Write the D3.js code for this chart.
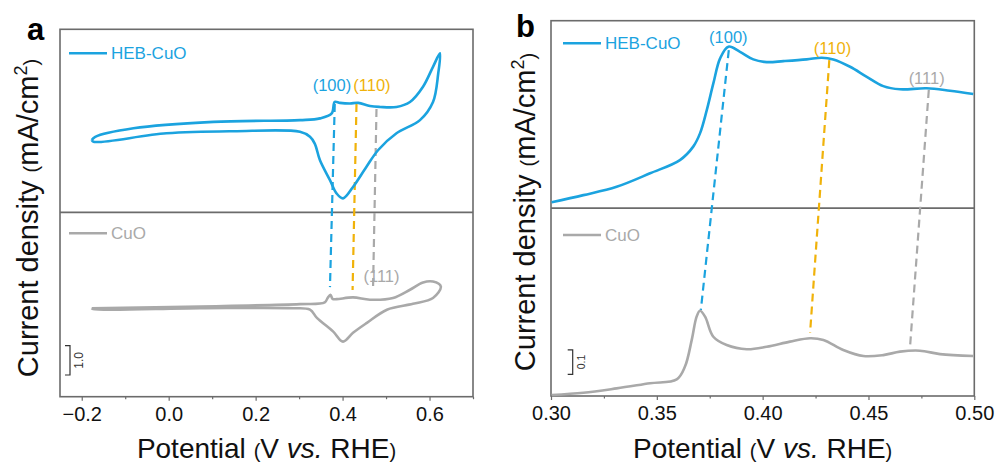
<!DOCTYPE html>
<html><head><meta charset="utf-8">
<script src="https://cdn.jsdelivr.net/npm/d3@7"></script>
<style>
html,body{margin:0;padding:0;background:#fff;}
svg{display:block;font-family:"Liberation Sans",Arial,sans-serif;}
</style></head>
<body><svg id="chart" width="996" height="465"></svg>
<script>
// ---------------- DATA ----------------
// Panel a: cyclic voltammograms (potential V vs RHE, current mA/cm2), traversal order
const hebCvPotential = [-0.177,-0.169,-0.081,0.103,0.302,0.348,0.375,0.382,0.394,0.417,0.436,0.463,0.486,0.524,0.555,0.585,0.608,0.624,
  0.620,0.608,0.578,0.524,0.482,0.455,0.424,0.401,0.386,0.371,0.348,0.336,0.325,0.302,0.149,-0.005,-0.173,-0.177];
const hebCvCurrent = [-0.27,-0.16,0.13,0.35,0.41,0.47,0.64,1.03,1.00,0.98,1.00,0.89,0.86,0.86,1.03,1.55,2.23,2.69,
  2.00,1.03,0.41,-0.04,-0.61,-1.18,-1.87,-2.26,-2.09,-1.64,-0.96,-0.39,-0.16,0.01,0.03,-0.04,-0.33,-0.27];
const cuoCvPotential = [-0.177,0.072,0.302,0.359,0.366,0.372,0.377,0.386,0.424,0.463,0.516,0.555,0.585,0.608,0.626,
  0.608,0.562,0.502,0.456,0.424,0.401,0.378,0.341,0.325,0.286,0.072,-0.174,-0.177];
const cuoCvCurrent = [0.02,0.08,0.16,0.22,0.38,0.48,0.34,0.33,0.39,0.31,0.37,0.65,0.90,0.93,0.76,
  0.37,0.17,-0.03,-0.48,-0.82,-1.12,-0.77,-0.31,-0.03,0.02,0.02,-0.01,0.02];
const hebOffsetA = 6.03;   // vertical offset of HEB-CuO curve (mA/cm2)

// Panel b: anodic sweep detail
const hebLsvPotential = [0.3003,0.3153,0.3310,0.3468,0.3609,0.3672,0.3704,0.3736,0.3767,0.3799,0.3838,0.3893,0.3956,0.4019,0.4098,0.4208,0.4279,0.4334,0.4413,0.4492,0.4570,0.4649,0.4775,0.4885,0.4995];
const hebLsvCurrent = [0.041,0.070,0.104,0.159,0.213,0.268,0.322,0.417,0.526,0.628,0.676,0.655,0.624,0.613,0.617,0.624,0.631,0.624,0.594,0.553,0.515,0.502,0.506,0.496,0.483];
const cuoLsvPotential = [0.3003,0.3153,0.3310,0.3468,0.3594,0.3633,0.3665,0.3688,0.3704,0.3728,0.3767,0.3830,0.3925,0.4019,0.4129,0.4224,0.4287,0.4381,0.4476,0.4570,0.4649,0.4743,0.4838,0.4995];
const cuoLsvCurrent = [0.004,0.013,0.031,0.052,0.068,0.120,0.229,0.324,0.348,0.324,0.242,0.208,0.191,0.201,0.222,0.236,0.229,0.188,0.163,0.167,0.181,0.185,0.171,0.163];
const hebOffsetB = 0.75;

// Facet labels and guide lines [x1, y1, x2, y2] in data units
const facetNames = ["(100)","(110)","(111)"];
const guidesA = [[0.382,6.99,0.371,0.74],[0.432,6.99,0.423,0.64],[0.478,6.82,0.470,0.64]];
const guidesB = [[0.3840,1.412,0.3708,0.351],[0.4315,1.371,0.4224,0.257],[0.4785,1.249,0.4696,0.196]];
const labelsA = [[0.3755,7.43],[0.4675,7.43],[0.4895,0.93]];
const labelsB = [[0.3838,1.443],[0.4330,1.398],[0.4775,1.273]];

const ticksA = [-0.2,0.0,0.2,0.4,0.6];
const ticksB = [0.30,0.35,0.40,0.45,0.50];
const seriesNames = ["HEB-CuO","CuO"];
const scaleBarA = 1.0, scaleBarB = 0.1;

// ---------------- STYLE ----------------
const BLUE = "#1ba3df", ORANGE = "#f0b20a", GRAY = "#a9a9a9", FRAME = "#6b6b6b";
const facetColors = [BLUE, ORANGE, GRAY];

const svg = d3.select("#chart");

function panel(opt){
  const g = svg.append("g");
  const x = d3.scaleLinear().domain(opt.xDomain).range([opt.left, opt.right]);
  const y = d3.scaleLinear().domain(opt.yDomain).range([opt.bottom, opt.top]);

  // axis
  const ax = g.append("g").attr("transform", `translate(0,${opt.bottom})`)
    .call(d3.axisBottom(x).tickValues(opt.ticks).tickFormat(opt.fmt).tickSize(4).tickPadding(6));
  ax.select(".domain").remove();
  ax.selectAll(".tick line").attr("stroke", FRAME).attr("stroke-width", 1.2);
  ax.selectAll("text").attr("font-size", 20).attr("fill", "#111").attr("font-family", "Liberation Sans, Arial, sans-serif");
  const minor = g.append("g").attr("transform", `translate(0,${opt.bottom})`)
    .call(d3.axisBottom(x).tickValues(opt.minorTicks).tickFormat("").tickSize(2.5));
  minor.select(".domain").remove();
  minor.selectAll(".tick line").attr("stroke", FRAME).attr("stroke-width", 1.2);

  // frame
  g.append("rect").attr("x", opt.left).attr("y", opt.top)
    .attr("width", opt.right - opt.left).attr("height", opt.bottom - opt.top)
    .attr("fill", "none").attr("stroke", FRAME).attr("stroke-width", 1.6);
  g.append("line").attr("x1", opt.left).attr("x2", opt.right)
    .attr("y1", y(opt.divider)).attr("y2", y(opt.divider))
    .attr("stroke", FRAME).attr("stroke-width", 1.6);

  // guides
  opt.guides.forEach((d,i)=>{
    g.append("line").attr("x1", x(d[0])).attr("y1", y(d[1])).attr("x2", x(d[2])).attr("y2", y(d[3]))
      .attr("stroke", facetColors[i]).attr("stroke-width", 2.2).attr("stroke-dasharray", "8,5");
  });

  // curves
  const line = d3.line().x(d=>x(d[0])).y(d=>y(d[1])).curve(d3.curveCatmullRom.alpha(0.5));
  opt.curves.forEach(c=>{
    const pts = c.px.map((v,i)=>[v, c.cy[i] + c.offset]);
    g.append("path").attr("d", line(pts)).attr("fill","none")
      .attr("stroke", c.color).attr("stroke-width", 2.6).attr("stroke-linejoin","round");
  });

  // facet labels
  opt.labels.forEach((d,i)=>{
    g.append("text").attr("x", x(d[0])).attr("y", y(d[1])).attr("text-anchor","middle")
      .attr("font-size", 16.5).attr("fill", facetColors[i]).text(facetNames[i]);
  });

  // legends
  opt.legends.forEach(l=>{
    g.append("line").attr("x1", l.x).attr("x2", l.x + 38).attr("y1", l.y).attr("y2", l.y)
      .attr("stroke", l.color).attr("stroke-width", 2.6);
    g.append("text").attr("x", l.x + 42).attr("y", l.y + 6).attr("font-size", 17)
      .attr("fill", l.color).text(l.name);
  });

  // scale bar
  const sb = opt.scaleBar;
  const y0 = y(sb.from), y1 = y(sb.from + sb.size);
  g.append("path").attr("d", `M${sb.x-5},${y1}H${sb.x}V${y0}H${sb.x-5}`)
    .attr("fill","none").attr("stroke","#333").attr("stroke-width",1.2);
  g.append("text").attr("transform", `translate(${sb.x+9},${(y0+y1)/2}) rotate(-90)`)
    .attr("text-anchor","middle").attr("dy","0.35em").attr("font-size", sb.fs).attr("fill","#333")
    .text(sb.label);

  // axis title x
  const xt = g.append("text").attr("x", (opt.left+opt.right)/2 + opt.xTitleShift).attr("y", 458)
    .attr("text-anchor","middle").attr("font-size", 28).attr("fill","#111");
  xt.append("tspan").text("Potential ");
  xt.append("tspan").attr("font-size", 20).text("(");
  xt.append("tspan").text("V ");
  xt.append("tspan").attr("font-style","italic").text("vs.");
  xt.append("tspan").text(" RHE");
  xt.append("tspan").attr("font-size", 20).text(")");

  // axis title y
  const yt = g.append("text").attr("transform", `translate(${opt.yTitleX},${opt.yTitleY}) rotate(-90)`)
    .attr("text-anchor","middle").attr("font-size", 29).attr("fill","#111");
  yt.append("tspan").text("Current density ");
  yt.append("tspan").attr("font-size", 20).text("(");
  yt.append("tspan").text("mA/cm");
  yt.append("tspan").attr("font-size", 18).attr("dy", -11).text("2");
  yt.append("tspan").attr("font-size", 20).attr("dy", 11).text(")");

  // panel letter
  g.append("text").attr("x", opt.letterX).attr("y", opt.letterY).attr("font-size", 31)
    .attr("font-weight","bold").attr("fill","#000").text(opt.letter);
}

panel({
  left:60, right:473, top:29.3, bottom:396.7,
  xDomain:[-0.25,0.70], yDomain:[-3,9.54], divider:3.29,
  ticks:ticksA, minorTicks:[-0.1,0.1,0.3,0.5,0.7], fmt:d3.format(".1f"),
  guides:guidesA, labels:labelsA,
  curves:[
    {px:cuoCvPotential, cy:cuoCvCurrent, offset:0, color:GRAY},
    {px:hebCvPotential, cy:hebCvCurrent, offset:hebOffsetA, color:BLUE}
  ],
  legends:[{x:69,y:53.3,color:BLUE,name:seriesNames[0]},{x:69,y:233.3,color:GRAY,name:seriesNames[1]}],
  scaleBar:{x:70, from:-2.26, size:scaleBarA, label:d3.format(".1f")(scaleBarA), fs:12},
  xTitleShift:0, yTitleX:38, yTitleY:218,
  letter:"a", letterX:27, letterY:40
});

panel({
  left:551, right:974.3, top:20.7, bottom:396,
  xDomain:[0.30,0.50], yDomain:[0,1.532], divider:0.767,
  ticks:ticksB, minorTicks:[0.325,0.375,0.425,0.475], fmt:d3.format(".2f"),
  guides:guidesB, labels:labelsB,
  curves:[
    {px:cuoLsvPotential, cy:cuoLsvCurrent, offset:0, color:GRAY},
    {px:hebLsvPotential, cy:hebLsvCurrent, offset:hebOffsetB, color:BLUE}
  ],
  legends:[{x:563,y:43.3,color:BLUE,name:seriesNames[0]},{x:563,y:235,color:GRAY,name:seriesNames[1]}],
  scaleBar:{x:572.7, from:0.0886, size:scaleBarB, label:d3.format(".1f")(scaleBarB), fs:10.5},
  xTitleShift:0, yTitleX:535, yTitleY:212,
  letter:"b", letterX:516, letterY:37
});
</script></body></html>
